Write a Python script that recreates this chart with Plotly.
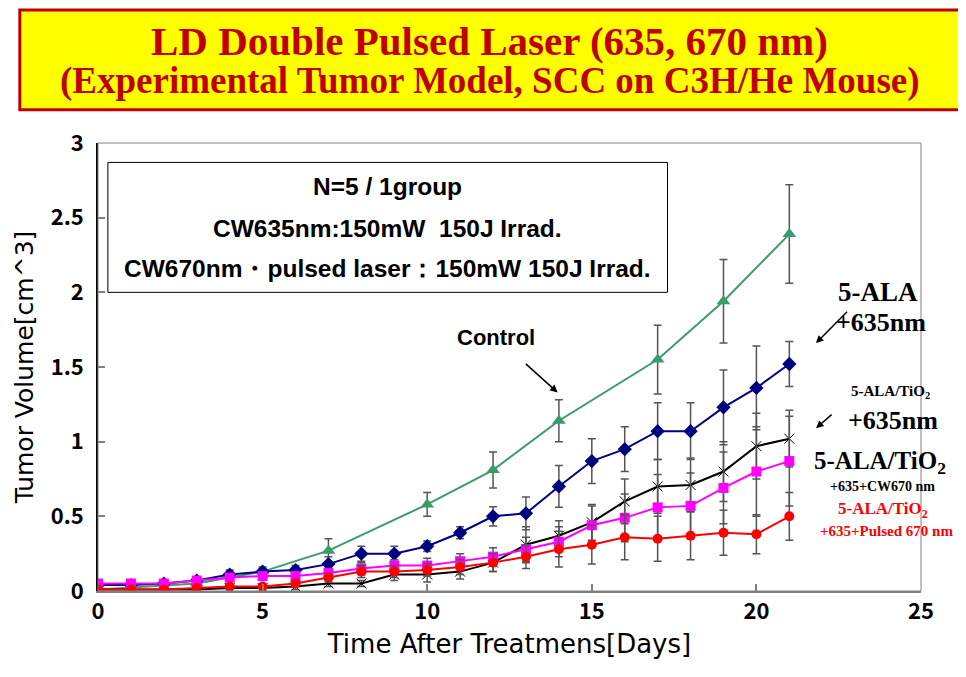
import plotly.graph_objects as go

# ---------------- data ----------------
days_ctrl = [0, 3, 5, 7, 10, 12, 14, 17, 19, 21]
ctrl = [0.01, 0.05, 0.13, 0.27, 0.58, 0.81, 1.14, 1.55, 1.94, 2.39]
ctrl_err = [0.01, 0.02, 0.02, 0.08, 0.08, 0.12, 0.14, 0.23, 0.28, 0.33]

days = list(range(0, 22))
ala635 = [0.04, 0.04, 0.05, 0.07, 0.11, 0.13, 0.14, 0.18, 0.25, 0.25, 0.30, 0.39,
          0.50, 0.52, 0.70, 0.87, 0.95, 1.07, 1.07, 1.23, 1.36, 1.52]
ala635_err = [0.01, 0.01, 0.02, 0.02, 0.03, 0.03, 0.03, 0.05, 0.05, 0.05, 0.035, 0.04,
              0.065, 0.11, 0.14, 0.15, 0.15, 0.19, 0.19, 0.25, 0.28, 0.15]

tio635 = [0.01, 0.01, 0.01, 0.01, 0.02, 0.02, 0.03, 0.05, 0.05, 0.11, 0.11, 0.13,
          0.19, 0.31, 0.37, 0.46, 0.60, 0.70, 0.71, 0.80, 0.97, 1.02]
tio635_err = [0.01, 0.01, 0.01, 0.01, 0.01, 0.02, 0.02, 0.02, 0.02, 0.04, 0.05, 0.05,
              0.06, 0.12, 0.10, 0.12, 0.15, 0.18, 0.18, 0.20, 0.22, 0.19]

tio_cw670 = [0.05, 0.05, 0.05, 0.07, 0.09, 0.10, 0.10, 0.12, 0.15, 0.17, 0.17, 0.20,
             0.23, 0.28, 0.33, 0.44, 0.49, 0.56, 0.57, 0.69, 0.80, 0.87]
tio_cw670_err = [0.01, 0.01, 0.01, 0.02, 0.02, 0.02, 0.02, 0.03, 0.04, 0.04, 0.05, 0.05,
                 0.06, 0.08, 0.10, 0.13, 0.16, 0.22, 0.22, 0.24, 0.30, 0.30]

tio_pulsed = [0.01, 0.01, 0.01, 0.02, 0.03, 0.03, 0.05, 0.09, 0.13, 0.13, 0.14, 0.16,
              0.19, 0.23, 0.28, 0.31, 0.36, 0.35, 0.37, 0.39, 0.38, 0.50]
tio_pulsed_err = [0.01, 0.01, 0.01, 0.01, 0.01, 0.01, 0.02, 0.03, 0.04, 0.04, 0.04, 0.05,
                  0.06, 0.08, 0.12, 0.13, 0.15, 0.15, 0.16, 0.15, 0.13, 0.16]

x_ticks = [0, 5, 10, 15, 20, 25]
y_ticks = [0, 0.5, 1, 1.5, 2, 2.5, 3]

# ---------------- styles ----------------
ERR = dict(type="data", visible=True, color="#555555", thickness=1.5, width=4)
TICKFONT = dict(family="Noto Sans CJK JP, DejaVu Sans", size=22, color="black", weight="bold")
SERIF = "Liberation Serif, Times New Roman, serif"
SANS = "Liberation Sans, Arial"

fig = go.Figure()

def add(x, y, e, color, symbol, size, mline=None):
    marker = dict(symbol=symbol, size=size, color=color)
    if mline:
        marker["line"] = mline
    fig.add_trace(go.Scatter(
        x=x, y=y, mode="lines+markers",
        line=dict(color=color, width=2),
        marker=marker,
        error_y=dict(array=e, **ERR),
        showlegend=False,
    ))

add(days_ctrl, ctrl, ctrl_err, "#3A9B6B", "triangle-up", 12)
add(days, ala635, ala635_err, "#000080", "diamond", 11)
add(days, tio635, tio635_err, "#000000", "x-thin-open", 10, dict(color="#000000", width=1))
add(days, tio_cw670, tio_cw670_err, "#FF00FF", "square", 10)
add(days, tio_pulsed, tio_pulsed_err, "#FF0000", "circle", 10)

# ---------------- title box ----------------
fig.add_shape(type="rect", xref="paper", yref="paper",
              x0=-0.095, x1=1.047, y0=1.074, y1=1.297,
              fillcolor="#FFFF00", line=dict(color="#C00000", width=3), layer="below")
fig.add_annotation(xref="paper", yref="paper", x=0.476, y=1.227, xanchor="center", yanchor="middle",
                   text="<b>LD Double Pulsed Laser (635, 670 nm)</b>", showarrow=False,
                   font=dict(family=SERIF, size=41, color="#C00000"))
fig.add_annotation(xref="paper", yref="paper", x=0.476, y=1.138, xanchor="center", yanchor="middle",
                   text="<b>(Experimental Tumor Model, SCC on C3H/He Mouse)</b>", showarrow=False,
                   font=dict(family=SERIF, size=37, color="#C00000"))

# ---------------- info box ----------------
fig.add_shape(type="rect", xref="x", yref="y", x0=0.3, x1=17.3, y0=2.0, y1=2.87,
              fillcolor="white", line=dict(color="black", width=1))
for yy, txt in [(2.71, "N=5 / 1group"),
                (2.43, "CW635nm:150mW  150J Irrad."),
                (2.16, "CW670nm\u30fbpulsed laser\uff1a150mW 150J Irrad.")]:
    fig.add_annotation(x=8.8, y=yy, xref="x", yref="y", text="<b>%s</b>" % txt,
                       showarrow=False, font=dict(family=SANS, size=24.5, color="black"))

# ---------------- labels & arrows ----------------
fig.add_annotation(x=12.1, y=1.70, text="<b>Control</b>", showarrow=False,
                   font=dict(family=SANS, size=22, color="black"))
fig.add_annotation(x=13.96, y=1.33, ax=12.95, ay=1.53, axref="x", ayref="y",
                   showarrow=True, arrowhead=2, arrowsize=1, arrowwidth=1.5, arrowcolor="black", text="")
fig.add_annotation(x=21.81, y=1.66, ax=22.8, ay=1.88, axref="x", ayref="y",
                   showarrow=True, arrowhead=2, arrowsize=1, arrowwidth=1.5, arrowcolor="black", text="")
fig.add_annotation(x=21.81, y=1.09, ax=22.33, ay=1.19, axref="x", ayref="y",
                   showarrow=True, arrowhead=2, arrowsize=1, arrowwidth=1.5, arrowcolor="black", text="")

side = [
    (23.7, 2.00, "<b>5-ALA</b>", 27, "black"),
    (23.78, 1.80, "<b>+635nm</b>", 26, "black"),
    (24.06, 1.33, "<b>5-ALA/TiO<sub>2</sub></b>", 15, "black"),
    (24.15, 1.14, "<b>+635nm</b>", 26, "black"),
    (23.76, 0.86, "<b>5-ALA/TiO<sub>2</sub></b>", 25, "black"),
    (23.82, 0.70, "<b>+635+CW670 nm</b>", 14, "black"),
    (23.85, 0.54, "<b>5-ALA/TiO<sub>2</sub></b>", 17, "#FF0000"),
    (23.95, 0.40, "<b>+635+Pulsed 670 nm</b>", 15, "#FF0000"),
]
for xx, yy, txt, sz, col in side:
    fig.add_annotation(x=xx, y=yy, xref="x", yref="y", text=txt, showarrow=False,
                       font=dict(family=SERIF, size=sz, color=col))

# frame
fig.add_shape(type="rect", xref="paper", yref="paper", x0=0, x1=1, y0=0, y1=1,
              line=dict(color="#808080", width=1), layer="above")

fig.update_layout(
    width=958, height=669,
    margin=dict(l=90, r=45, t=135, b=86),
    paper_bgcolor="white", plot_bgcolor="white",
    xaxis=dict(range=[0, 25], tickvals=x_ticks, ticks="inside", ticklen=7,
               tickcolor="#808080", tickwidth=1.5, showgrid=False, zeroline=False,
               showline=True, linecolor="#808080", linewidth=2,
               tickfont=TICKFONT,
               title=dict(text="Time After Treatmens[Days]", standoff=10,
                          font=dict(family="DejaVu Sans", size=26, color="black"))),
    yaxis=dict(range=[0, 3], tickvals=y_ticks, ticks="inside", ticklen=7,
               tickcolor="#808080", tickwidth=1.5, showgrid=False, zeroline=False,
               showline=True, linecolor="black", linewidth=1.5,
               tickfont=TICKFONT, ticklabelstandoff=8,
               title=dict(text="Tumor Volume[cm^3]", standoff=10,
                          font=dict(family="DejaVu Sans", size=25, color="black"))),
)

fig.write_html("out.html")
